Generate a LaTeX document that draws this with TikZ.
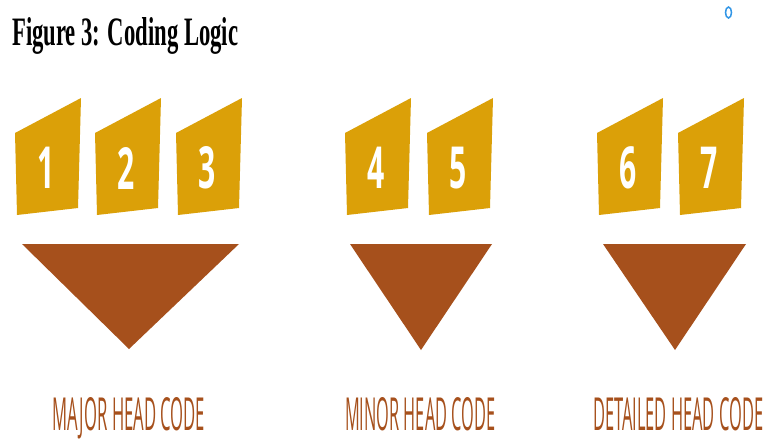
\documentclass[tikz,border=0pt]{standalone}
\usepackage{fontspec}
\setmainfont{Liberation Serif}
\newfontfamily\labfont{Open Sans}
\newfontfamily\digfont{Open Sans}[UprightFont=* Bold]
\definecolor{gold}{RGB}{219,160,8}
\definecolor{rust}{RGB}{166,80,28}
\definecolor{ringblue}{RGB}{50,150,230}
\newcommand{\dg}[1]{\scalebox{0.52}[1]{\fontsize{58}{58}\selectfont\digfont #1}}
\tikzset{
  tile/.style={fill=gold},
  funnel/.style={fill=rust},
  digit/.style={text=white, inner sep=0pt, anchor=center},
  caption/.style={text=rust, inner sep=0pt, anchor=base west},
}
\begin{document}
\begin{tikzpicture}[x=1pt,y=-1pt]
\useasboundingbox (0,0) rectangle (766,440);
\fill[white] (0,0) rectangle (766,440);
% title
\node[inner sep=0pt, anchor=base west] (title) at (12,45)
  {\resizebox{226pt}{28pt}{\bfseries Figure 3: Coding Logic}};
% small ring
\draw[ringblue, line width=1.5pt] (728.5,12.5) ellipse [x radius=3, y radius=5.5];
% tiles
\foreach \L/\n in {15/1,95/2,176/3,345/4,427/5,597/6,678/7}{
  \fill[tile] (\L,133) -- (\L+66,98) -- (\L+63,208) -- (\L+2,215) -- cycle;
  \node[digit] (d\n) at (\L+31,168) {\dg{\n}};
}
% funnels
\fill[funnel] (22,244) -- (239,244) -- (129,349) -- cycle;
\fill[funnel] (350,244) -- (492,244) -- (421,350) -- cycle;
\fill[funnel] (603,244) -- (746,244) -- (675,350) -- cycle;
% captions
\node[caption] (c1) at (52,430) {\resizebox{153pt}{33pt}{\labfont MAJOR HEAD CODE}};
\node[caption] (c2) at (345,430) {\resizebox{150pt}{33pt}{\labfont MINOR HEAD CODE}};
\node[caption] (c3) at (593,430) {\resizebox{170pt}{33pt}{\labfont DETAILED HEAD CODE}};
\end{tikzpicture}
\end{document}
